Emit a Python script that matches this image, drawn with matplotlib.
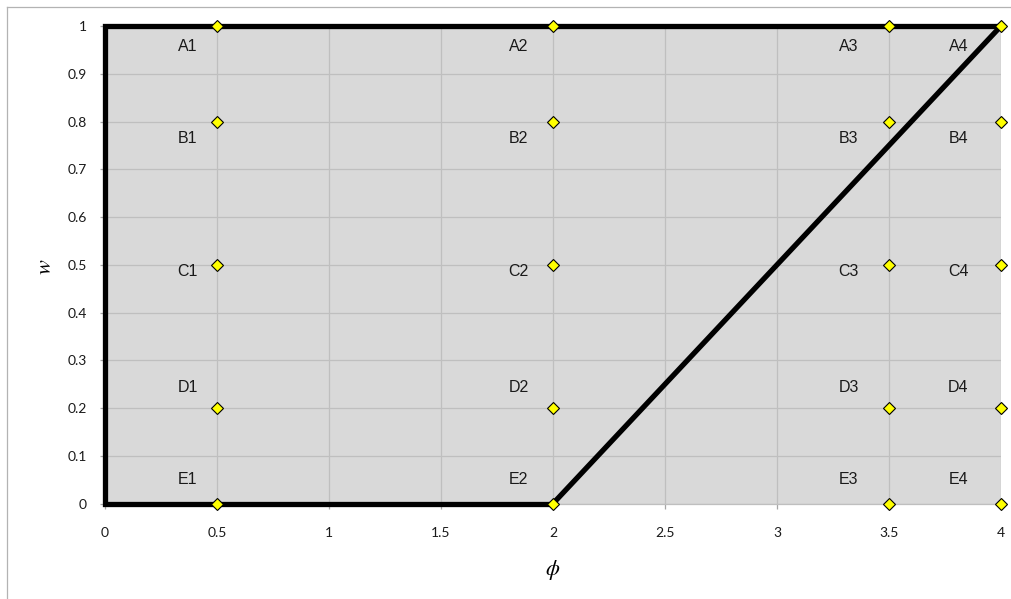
import matplotlib
matplotlib.use("Agg")
import matplotlib.pyplot as plt
from matplotlib.lines import Line2D

# ---- data ----
phi_cols = [0.5, 2.0, 3.5, 4.0]
w_rows = [1.0, 0.8, 0.5, 0.2, 0.0]
row_names = ["A", "B", "C", "D", "E"]
col_names = ["1", "2", "3", "4"]

boundary_phi = [2, 0, 0, 4]
boundary_w = [0, 0, 1, 1]
diag_phi = [2, 4]
diag_w = [0, 1]

x_ticks = [0, 0.5, 1, 1.5, 2, 2.5, 3, 3.5, 4]
x_ticklabels = ["0", "0.5", "1", "1.5", "2", "2.5", "3", "3.5", "4"]
y_ticks = [0, 0.1, 0.2, 0.3, 0.4, 0.5, 0.6, 0.7, 0.8, 0.9, 1]
y_ticklabels = ["0", "0.1", "0.2", "0.3", "0.4", "0.5", "0.6", "0.7", "0.8", "0.9", "1"]

# label offsets (points) - styling
col_dx = [-20.9, -24.8, -29.1, -30.7]
row_dy = [-15.1, -11.9, -5.0, 15.1, 17.6]

plt.rcParams['mathtext.fontset'] = 'stix'

W, H = 1011, 599
fig = plt.figure(figsize=(W / 100, H / 100), dpi=100)
fig.patch.set_facecolor('white')

left = 104.8 / W
right = 1001 / W
top = 1 - 26 / H
bottom = 1 - 503.7 / H
ax = fig.add_axes([left, bottom, right - left, top - bottom])
ax.set_facecolor('#d9d9d9')

ax.set_xlim(0, 4)
ax.set_ylim(0, 1)
ax.set_xticks(x_ticks)
ax.set_xticklabels(x_ticklabels)
ax.set_yticks(y_ticks)
ax.set_yticklabels(y_ticklabels)
ax.grid(True, color='#bfbfbf', linewidth=0.9)
ax.set_axisbelow(True)

for s in ['top', 'right']:
    ax.spines[s].set_visible(False)
for s in ['left', 'bottom']:
    ax.spines[s].set_color('#bfbfbf')
    ax.spines[s].set_linewidth(0.9)

ax.tick_params(axis='both', direction='out', length=3.8, width=0.9, color='#a6a6a6',
               labelsize=10, labelcolor='#1a1a1a')
ax.tick_params(axis='x', pad=13)
ax.tick_params(axis='y', pad=9)
for lab in ax.get_xticklabels() + ax.get_yticklabels():
    lab.set_fontfamily('Lato')

ax.plot(boundary_phi, boundary_w, color='black', linewidth=3.8,
        solid_joinstyle='miter', solid_capstyle='projecting', clip_on=False, zorder=3)
ax.plot(diag_phi, diag_w, color='black', linewidth=3.8,
        solid_capstyle='butt', clip_on=False, zorder=3)

for ci, px in enumerate(phi_cols):
    for ri, wy in enumerate(w_rows):
        ax.plot([px], [wy], marker='D', markersize=6.3, markerfacecolor='#ffff00',
                markeredgecolor='black', markeredgewidth=0.8, linestyle='none',
                clip_on=False, zorder=5)
        ax.annotate(row_names[ri] + col_names[ci], xy=(px, wy),
                    xytext=(col_dx[ci], row_dy[ri]), textcoords='offset points',
                    ha='center', va='center', fontsize=11.5, color='#1a1a1a',
                    fontfamily='Liberation Sans', zorder=6, annotation_clip=False)

fig.text(553 / W, 1 - 570 / H, r'$\phi$', ha='center', va='center', fontsize=16)
fig.text(45 / W, 1 - 267 / H, r'$w$', ha='center', va='center', fontsize=16, rotation=90)

# outer chart frame
fig.add_artist(Line2D([7 / W, 7 / W], [0, 1 - 7 / H], color='#b3b3b3', linewidth=0.9))
fig.add_artist(Line2D([7 / W, 1], [1 - 7 / H, 1 - 7 / H], color='#b3b3b3', linewidth=0.9))

fig.savefig('out.png', dpi=100)
